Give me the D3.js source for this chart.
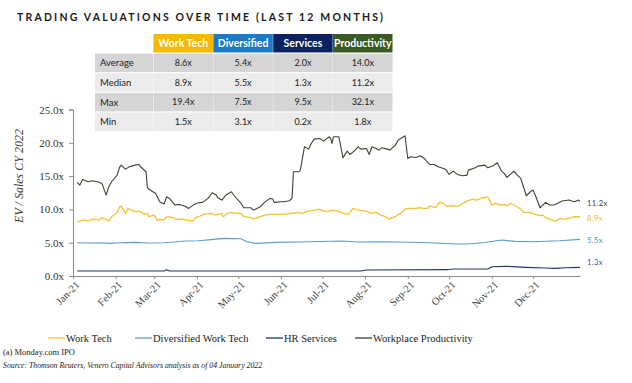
<!DOCTYPE html>
<html><head><meta charset="utf-8">
<script src="https://cdn.jsdelivr.net/npm/d3@7"></script>
<style>body{margin:0;background:#fff}svg{display:block}</style>
</head><body><svg id="c" width="632" height="383"></svg>
<script>
const title = "TRADING VALUATIONS OVER TIME (LAST 12 MONTHS)";
const statNames = ["Average", "Median", "Max", "Min"];
const tableHeaders = ["Work Tech", "Diversified", "Services", "Productivity"];
const statWorkTech = [8.6, 8.9, 19.4, 1.5];
const statDiversified = [5.4, 5.5, 7.5, 3.1];
const statServices = [2.0, 1.3, 9.5, 0.2];
const statProductivity = [14.0, 11.2, 32.1, 1.8];
const yTicks = [0, 5, 10, 15, 20, 25];
const xTickMonths = ["2021-01-01","2021-02-01","2021-03-01","2021-04-01","2021-05-01","2021-06-01",
  "2021-07-01","2021-08-01","2021-09-01","2021-10-01","2021-11-01","2021-12-01"];
const seriesNames = ["Work Tech", "Diversified Work Tech", "HR Services", "Workplace Productivity"];
const endLabels = [8.9, 5.5, 1.3, 11.2];
const sourceNote = "(a) Monday.com  IPO";
const sourceText = "Source: Thomson Reuters, Venero Capital Advisors analysis as of 04 January 2022";

const workTech = [
["2021-01-04",8.25],["2021-01-06",8.15],["2021-01-08",8.4],["2021-01-13",8.25],["2021-01-15",8.55],
["2021-01-20",8.4],["2021-01-22",8.75],["2021-01-25",8.5],["2021-01-27",8.25],["2021-01-29",8.9],
["2021-02-02",9.55],["2021-02-04",10.4],["2021-02-05",10.5],["2021-02-08",9.4],["2021-02-10",10.15],
["2021-02-12",9.9],["2021-02-16",9.65],["2021-02-18",9.75],["2021-02-22",9.25],["2021-02-24",9.4],
["2021-02-25",8.9],["2021-03-01",9.15],["2021-03-03",8.4],["2021-03-05",8.5],["2021-03-08",8.4],
["2021-03-10",8.9],["2021-03-15",8.75],["2021-03-17",8.5],["2021-03-22",8.55],["2021-03-25",8.4],
["2021-03-29",8.25],["2021-03-31",8.75],["2021-04-02",8.9],["2021-04-06",9.25],["2021-04-12",9.4],
["2021-04-14",9.15],["2021-04-19",9.4],["2021-04-20",8.9],["2021-04-23",9.4],["2021-04-26",9.55],
["2021-04-29",9.4],["2021-05-03",9.4],["2021-05-05",8.9],["2021-05-10",8.75],["2021-05-12",8.55],
["2021-05-17",8.9],["2021-05-20",9.15],["2021-05-24",9.25],["2021-05-28",9.25],["2021-06-03",9.25],
["2021-06-08",9.4],["2021-06-14",9.55],["2021-06-16",9.4],["2021-06-21",9.75],["2021-06-25",9.9],
["2021-06-29",10.05],["2021-07-02",9.75],["2021-07-07",9.75],["2021-07-08",9.9],["2021-07-13",9.75],
["2021-07-16",9.4],["2021-07-20",9.25],["2021-07-23",10.15],["2021-07-27",9.9],["2021-08-02",9.75],
["2021-08-05",9.4],["2021-08-09",9.55],["2021-08-12",9.15],["2021-08-16",8.9],["2021-08-18",8.55],
["2021-08-23",8.9],["2021-08-25",9.25],["2021-08-27",9.4],["2021-08-30",10.05],["2021-09-02",10.15],
["2021-09-07",10.15],["2021-09-09",10.25],["2021-09-13",10.15],["2021-09-15",10.15],["2021-09-17",10.5],
["2021-09-21",10.25],["2021-09-24",11.05],["2021-09-27",10.9],["2021-09-29",10.5],["2021-10-04",10.55],
["2021-10-06",10.45],["2021-10-08",10.5],["2021-10-11",10.9],["2021-10-14",11.25],["2021-10-18",11.55],
["2021-10-21",11.4],["2021-10-25",11.75],["2021-10-27",11.75],["2021-10-29",11.9],["2021-11-01",10.65],
["2021-11-03",10.9],["2021-11-08",10.65],["2021-11-10",10.75],["2021-11-12",10.55],["2021-11-15",10.9],
["2021-11-18",10.55],["2021-11-22",10.05],["2021-11-24",9.55],["2021-11-29",9.55],["2021-12-02",9.25],
["2021-12-06",9.05],["2021-12-08",9.15],["2021-12-10",8.75],["2021-12-15",8.4],["2021-12-17",8.25],
["2021-12-21",8.65],["2021-12-24",8.55],["2021-12-29",8.75],["2021-12-31",8.9],["2022-01-04",8.9]
];

const diversified = [
["2021-01-04",5.0],["2021-01-13",4.95],["2021-01-20",5.0],["2021-01-27",4.9],["2021-02-04",5.0],
["2021-02-15",5.05],["2021-02-25",4.95],["2021-03-08",5.0],["2021-03-16",5.1],["2021-03-24",5.25],
["2021-04-02",5.3],["2021-04-13",5.5],["2021-04-21",5.65],["2021-05-03",5.6],["2021-05-07",5.15],
["2021-05-14",4.9],["2021-05-28",5.05],["2021-06-22",5.15],["2021-07-14",5.25],["2021-07-28",5.1],
["2021-08-12",5.15],["2021-08-26",5.1],["2021-09-17",5.0],["2021-10-05",4.8],["2021-10-14",4.8],
["2021-10-26",5.0],["2021-11-08",5.4],["2021-11-18",5.2],["2021-12-01",5.15],["2021-12-20",5.3],
["2022-01-04",5.5]
];

const hrServices = [
["2021-01-04",0.75],["2021-03-08",0.75],["2021-03-10",0.95],["2021-03-12",0.75],["2021-07-29",0.75],
["2021-08-02",0.9],["2021-09-30",0.95],["2021-10-04",1.05],["2021-10-29",1.05],["2021-11-01",1.4],
["2021-11-12",1.45],["2021-11-26",1.3],["2021-12-10",1.2],["2021-12-17",1.15],["2021-12-24",1.25],
["2022-01-04",1.3]
];

const productivity = [
["2021-01-04",14.05],["2021-01-06",13.65],["2021-01-08",14.5],["2021-01-12",14.15],["2021-01-15",14.3],
["2021-01-19",14.15],["2021-01-22",13.9],["2021-01-25",12.15],["2021-01-27",13.4],["2021-01-29",14.15],
["2021-02-02",15.15],["2021-02-04",16.4],["2021-02-05",16.65],["2021-02-08",16.05],["2021-02-11",16.4],
["2021-02-15",16.65],["2021-02-18",16.75],["2021-02-19",16.4],["2021-02-23",15.65],["2021-02-24",13.25],
["2021-02-26",12.9],["2021-03-02",12.4],["2021-03-05",11.15],["2021-03-08",10.8],["2021-03-10",11.9],
["2021-03-12",11.65],["2021-03-16",10.65],["2021-03-19",10.75],["2021-03-23",10.5],["2021-03-26",10.15],
["2021-03-30",10.75],["2021-04-02",11.0],["2021-04-05",11.05],["2021-04-09",11.65],["2021-04-12",12.5],
["2021-04-15",12.15],["2021-04-16",11.75],["2021-04-19",11.4],["2021-04-22",12.15],["2021-04-26",12.65],
["2021-04-28",12.05],["2021-05-03",10.9],["2021-05-05",10.25],["2021-05-10",10.25],["2021-05-12",9.9],
["2021-05-17",10.4],["2021-05-20",11.05],["2021-05-24",11.65],["2021-05-26",11.55],["2021-05-27",11.05],
["2021-06-01",11.15],["2021-06-03",11.15],["2021-06-07",11.3],["2021-06-09",11.65],["2021-06-10",15.65],
["2021-06-14",15.65],["2021-06-15",15.9],["2021-06-18",19.4],["2021-06-21",19.05],["2021-06-23",19.9],
["2021-06-25",20.55],["2021-06-29",20.65],["2021-07-02",20.25],["2021-07-06",20.9],["2021-07-07",20.65],
["2021-07-08",19.9],["2021-07-09",20.9],["2021-07-13",20.9],["2021-07-16",17.75],["2021-07-19",18.75],
["2021-07-21",18.25],["2021-07-23",18.55],["2021-07-27",19.4],["2021-07-29",19.05],["2021-08-02",19.15],
["2021-08-04",18.25],["2021-08-06",19.4],["2021-08-09",19.15],["2021-08-11",18.9],["2021-08-13",19.25],
["2021-08-17",19.05],["2021-08-19",18.9],["2021-08-23",19.65],["2021-08-25",20.4],["2021-08-27",20.65],
["2021-08-30",21.05],["2021-09-01",17.65],["2021-09-03",17.9],["2021-09-07",17.8],["2021-09-10",18.05],
["2021-09-13",17.65],["2021-09-15",17.15],["2021-09-17",16.75],["2021-09-20",16.75],["2021-09-23",16.4],
["2021-09-27",16.15],["2021-09-29",15.9],["2021-10-01",15.25],["2021-10-04",15.75],["2021-10-07",15.25],
["2021-10-11",15.05],["2021-10-14",15.15],["2021-10-15",15.9],["2021-10-20",16.25],["2021-10-22",16.5],
["2021-10-27",16.65],["2021-10-29",16.25],["2021-11-02",16.55],["2021-11-05",17.0],["2021-11-08",15.75],
["2021-11-10",15.4],["2021-11-12",14.8],["2021-11-17",15.75],["2021-11-19",15.25],["2021-11-22",14.65],
["2021-11-26",12.05],["2021-11-29",12.65],["2021-12-01",12.9],["2021-12-03",11.9],["2021-12-06",10.25],
["2021-12-08",10.65],["2021-12-10",11.05],["2021-12-13",10.65],["2021-12-16",10.65],["2021-12-20",11.05],
["2021-12-22",11.25],["2021-12-27",11.4],["2021-12-29",11.25],["2021-12-31",11.15],["2022-01-03",11.4],
["2022-01-04",11.2]
];

const colors = ["#f7c12e", "#5b9bd5", "#1f3864", "#3a4530"];
const headerColors = ["#f9b800", "#1a7ac7", "#0b2160", "#3a5a23"];
const labelColors = ["#f2b51c", "#5b8fc9", "#34558f", "#3a3a3a"];

const parse = d3.timeParse("%Y-%m-%d");
const series = [workTech, diversified, hrServices, productivity].map(s => s.map(d => ({date: parse(d[0]), v: d[1]})));

const svg = d3.select("#c");
const serif = "'Liberation Serif','DejaVu Serif',serif";
const sans = "Lato,'Open Sans',sans-serif";

// Title
svg.append("text").attr("x", 17).attr("y", 21).text(title)
  .attr("font-family", sans).attr("font-weight", "bold").attr("font-size", 10.5)
  .attr("fill", "#1a1a1a").attr("textLength", 366).attr("lengthAdjust", "spacing");

// Scales
const x = d3.scaleTime().domain([parse("2021-01-01"), parse("2022-01-04")]).range([73, 580]);
const y = d3.scaleLinear().domain([0, 25]).range([276, 109.5]);

// Table
const colX = d3.scaleBand().domain(tableHeaders).range([153.5, 392.5]).paddingInner(0.006);
const rowY = d3.scaleBand().domain(["head"].concat(statNames)).range([34, 131]).paddingInner(0.06);
const tableG = svg.append("g");
const statCols = [statWorkTech, statDiversified, statServices, statProductivity];
const fmt = v => d3.format(".1f")(v) + "x";
tableHeaders.forEach((h, i) => {
  tableG.append("rect").attr("x", colX(h)).attr("y", rowY("head")).attr("width", colX.bandwidth()).attr("height", rowY.bandwidth())
    .attr("fill", headerColors[i]);
  tableG.append("text").attr("x", colX(h) + colX.bandwidth() / 2).attr("y", rowY("head") + rowY.bandwidth() / 2)
    .attr("dy", "0.36em").attr("text-anchor", "middle").text(h)
    .attr("font-family", sans).attr("font-weight", "bold").attr("font-size", 10.5).attr("fill", "#fff");
});
statNames.forEach((r, j) => {
  const bg = j % 2 === 0 ? "#d5d5d5" : "#ebebeb";
  tableG.append("rect").attr("x", 95).attr("y", rowY(r)).attr("width", 58).attr("height", rowY.bandwidth()).attr("fill", bg);
  tableG.append("text").attr("x", 100).attr("y", rowY(r) + rowY.bandwidth() / 2).attr("dy", "0.36em").text(r)
    .attr("font-family", sans).attr("font-size", 9.5).attr("fill", "#222");
  tableHeaders.forEach((h, i) => {
    tableG.append("rect").attr("x", colX(h)).attr("y", rowY(r)).attr("width", colX.bandwidth()).attr("height", rowY.bandwidth()).attr("fill", bg);
    tableG.append("text").attr("x", colX(h) + colX.bandwidth() / 2).attr("y", rowY(r) + rowY.bandwidth() / 2)
      .attr("dy", "0.36em").attr("text-anchor", "middle").text(fmt(statCols[i][j]))
      .attr("font-family", sans).attr("font-size", 9).attr("fill", "#222");
  });
});

// Y axis
const yAxis = svg.append("g").attr("transform", "translate(73,0)")
  .call(d3.axisLeft(y).tickValues(yTicks).tickFormat(fmt).tickSize(4).tickPadding(5));
yAxis.select(".domain").attr("stroke", "#8a8a8a");
yAxis.selectAll(".tick line").attr("stroke", "#8a8a8a");
yAxis.selectAll("text").attr("font-family", serif).attr("font-size", 11).attr("fill", "#333");

// X axis
const xAxis = svg.append("g").attr("transform", "translate(0,276)")
  .call(d3.axisBottom(x).tickValues(xTickMonths.map(parse)).tickFormat(d3.timeFormat("%b-%y")).tickSize(3).tickSizeOuter(0));
xAxis.select(".domain").attr("stroke", "#8a8a8a");
xAxis.selectAll(".tick line").attr("stroke", "#8a8a8a");
xAxis.selectAll("text").attr("font-family", serif).attr("font-size", 10.5).attr("fill", "#404040")
  .attr("text-anchor", "end").attr("transform", "translate(4,7) rotate(-45)").attr("dy", "0.35em").attr("y", 0);

// Y axis label
svg.append("text").attr("transform", "translate(23,176) rotate(-90)").attr("text-anchor", "middle")
  .text("EV / Sales CY 2022").attr("font-family", serif).attr("font-style", "italic").attr("font-size", 12).attr("fill", "#333");

// Lines
const line = d3.line().x(d => x(d.date)).y(d => y(d.v));
series.forEach((s, i) => {
  svg.append("path").datum(s).attr("d", line).attr("fill", "none").attr("stroke", colors[i])
    .attr("stroke-width", i === 0 ? 1.3 : 1.1).attr("stroke-linejoin", "round");
});

// End labels
endLabels.forEach((v, i) => {
  const yy = Math.min(y(v) + 1.5, y(0) - 14);
  svg.append("text").attr("x", 587).attr("y", yy).attr("dy", "0.35em").text(fmt(v))
    .attr("font-family", sans).attr("font-size", 7.5).attr("letter-spacing", 0.4).attr("fill", labelColors[i]);
});

// Legend
const legX = d3.scaleOrdinal().domain(seriesNames).range([48, 135, 266, 355]);
seriesNames.forEach((n, i) => {
  const lx = legX(n);
  svg.append("line").attr("x1", lx).attr("x2", lx + 17).attr("y1", 338).attr("y2", 338).attr("stroke", colors[i]).attr("stroke-width", 1.3);
  svg.append("text").attr("x", lx + 18).attr("y", 341.5).text(n).attr("font-family", serif).attr("font-size", 10.5).attr("fill", "#222");
});

// Footnotes
svg.append("text").attr("x", 3).attr("y", 355).text(sourceNote).attr("font-family", serif).attr("font-size", 8.5).attr("fill", "#222");
svg.append("text").attr("x", 3).attr("y", 368).text(sourceText).attr("font-family", serif).attr("font-style", "italic").attr("font-size", 7.8).attr("fill", "#222");
</script>
</body></html>
